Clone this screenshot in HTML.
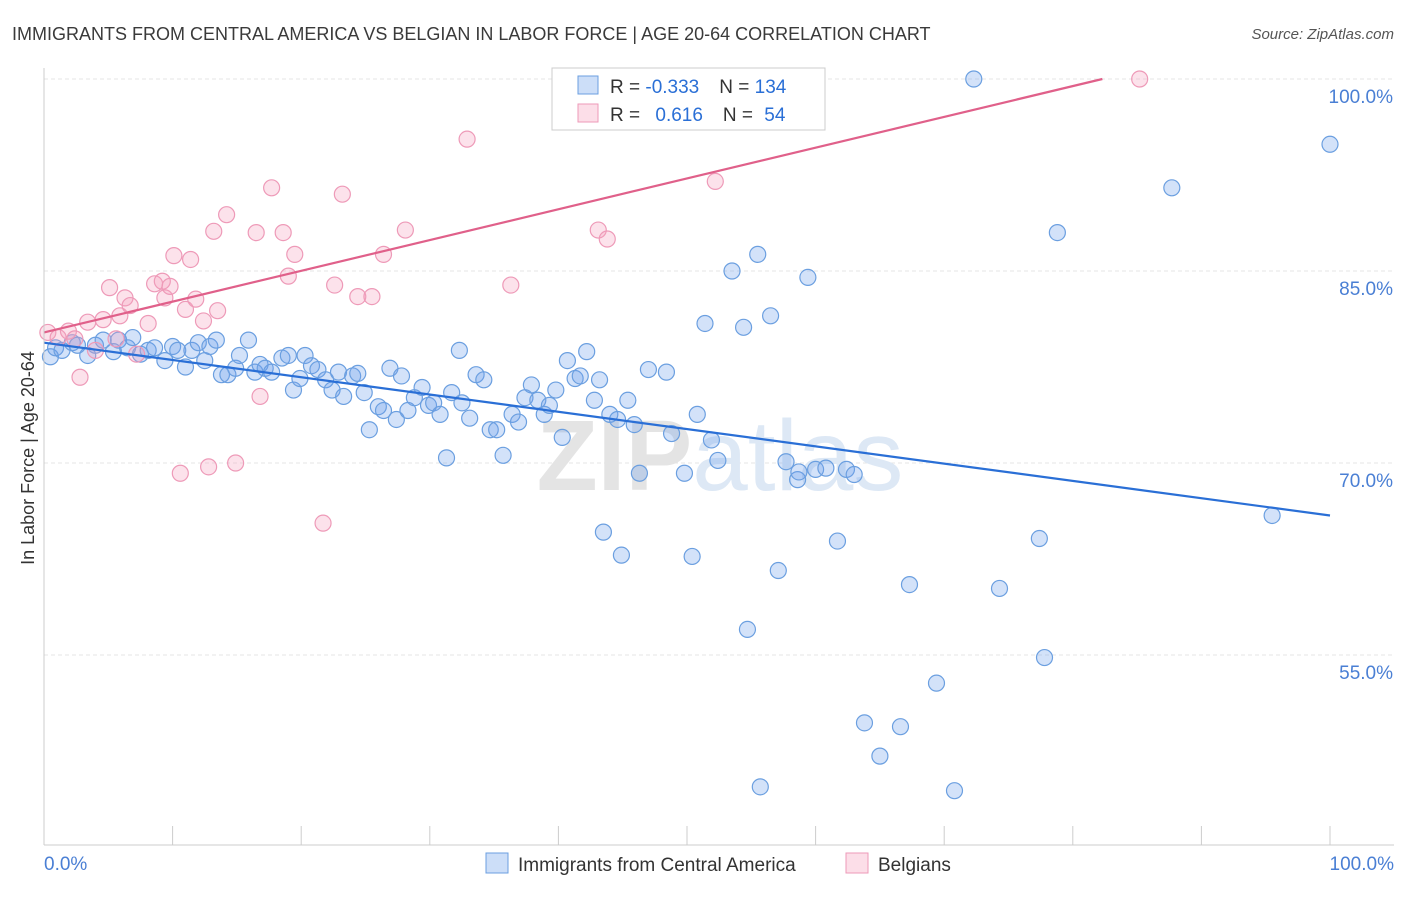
<!DOCTYPE html>
<html><head><meta charset="utf-8">
<style>
body{margin:0;background:#fff;font-family:"Liberation Sans",sans-serif;}
svg text{font-family:"Liberation Sans",sans-serif;}
</style></head><body>
<svg id="chart" width="1406" height="892" xmlns="http://www.w3.org/2000/svg">
<text x="12" y="40" font-size="18" fill="#3a3a3a">IMMIGRANTS FROM CENTRAL AMERICA VS BELGIAN IN LABOR FORCE | AGE 20-64 CORRELATION CHART</text>
<text x="1394" y="39" font-size="15" fill="#555" text-anchor="end" font-style="italic">Source: ZipAtlas.com</text>
<text transform="translate(34,458) rotate(-90)" font-size="18" fill="#333" text-anchor="middle">In Labor Force | Age 20-64</text>
<g id="grid"></g>
<g id="wm"><text x="720" y="490" font-size="100" fill="#e4e4e4" text-anchor="middle" font-weight="bold">ZIP<tspan fill="#dde8f5" font-weight="normal">atlas</tspan></text></g>
<g id="marks"></g>
<g id="axes"></g>
<g>
<rect x="552" y="68" width="273" height="62" fill="#fff" stroke="#ccc"/>
<rect x="578" y="76" width="20" height="18" fill="rgba(110,160,235,0.35)" stroke="#6b9fe0"/>
<rect x="578" y="104" width="20" height="18" fill="rgba(245,160,190,0.35)" stroke="#ee9ab8"/>
<text x="610" y="93" font-size="19" fill="#333">R = <tspan fill="#2a6fd6">-0.333</tspan><tspan dx="20">N = </tspan><tspan fill="#2a6fd6">134</tspan></text>
<text x="610" y="121" font-size="19" fill="#333">R = <tspan dx="10" fill="#2a6fd6">0.616</tspan><tspan dx="20">N = </tspan><tspan dx="6" fill="#2a6fd6">54</tspan></text>
</g>
<g>
<rect x="486" y="853" width="22" height="20" fill="rgba(110,160,235,0.35)" stroke="#6b9fe0"/>
<text x="518" y="871" font-size="19" fill="#333">Immigrants from Central America</text>
<rect x="846" y="853" width="22" height="20" fill="rgba(245,160,190,0.35)" stroke="#ee9ab8"/>
<text x="878" y="871" font-size="19" fill="#333">Belgians</text>
</g>
</svg>
<script>
const blueX=[0.5,0.9,1.4,2.2,2.6,3.4,4.0,4.6,5.4,5.8,6.5,6.9,7.5,8.1,8.6,9.4,10.0,10.4,11.0,11.5,12.0,12.5,12.9,13.4,13.8,14.3,14.9,15.2,15.9,16.4,16.8,17.2,17.7,18.5,19.0,19.4,19.9,20.3,20.8,21.3,21.9,22.4,22.9,23.3,24.0,24.4,24.9,25.3,26.0,26.4,26.9,27.4,27.8,28.3,28.8,29.4,29.9,30.3,30.8,31.3,31.7,32.3,32.5,33.1,33.6,34.2,34.7,35.2,35.7,36.4,36.9,37.4,37.9,38.4,38.9,39.3,39.8,40.3,40.7,41.3,41.7,42.2,42.8,43.2,43.5,44.0,44.6,44.9,45.4,45.9,46.3,47.0,48.4,48.8,49.8,50.4,50.8,51.4,51.9,52.4,53.5,54.4,54.7,55.5,55.7,56.5,57.1,57.7,58.6,58.7,59.4,60.0,60.8,61.7,62.4,63.0,63.8,65.0,66.6,67.3,69.4,70.8,72.3,74.3,77.4,77.8,78.8,87.7,95.5,100,47.9,49.1];
const blueY=[78.3,79.0,78.8,79.4,79.2,78.4,79.2,79.6,78.7,79.6,79.0,79.8,78.5,78.8,79.0,78.0,79.1,78.8,77.5,78.8,79.4,78.0,79.1,79.6,76.9,76.9,77.4,78.4,79.6,77.1,77.7,77.4,77.1,78.2,78.4,75.7,76.6,78.4,77.6,77.3,76.5,75.7,77.1,75.2,76.8,77.0,75.5,72.6,74.4,74.1,77.4,73.4,76.8,74.1,75.1,75.9,74.5,74.7,73.8,70.4,75.5,78.8,74.7,73.5,76.9,76.5,72.6,72.6,70.6,73.8,73.2,75.1,76.1,74.9,73.8,74.5,75.7,72.0,78.0,76.6,76.8,78.7,74.9,76.5,64.6,73.8,73.4,62.8,74.9,73.0,69.2,77.3,77.1,72.3,69.2,62.7,73.8,80.9,71.8,70.2,85.0,80.6,57.0,86.3,44.7,81.5,61.6,70.1,68.7,69.3,84.5,69.5,69.6,63.9,69.5,69.1,49.7,47.1,49.4,60.5,52.8,44.4,100,60.2,64.1,54.8,88.0,91.5,65.9,94.9,100,100];
const pinkX=[0.3,1.1,1.9,2.4,2.8,3.4,4,4.6,5.1,5.6,5.9,6.3,6.7,7.2,8.1,8.6,9.2,9.4,9.8,10.1,10.6,11,11.4,11.8,12.4,12.8,13.2,13.5,14.2,14.9,16.5,16.8,17.7,18.6,19,19.5,21.7,22.6,23.2,24.4,25.5,26.4,28.1,32.9,36.3,43.1,43.8,52.2,85.2];
const pinkY=[80.2,79.8,80.3,79.7,76.7,81,78.8,81.2,83.7,79.7,81.5,82.9,82.3,78.5,80.9,84,84.2,82.9,83.8,86.2,69.2,82,85.9,82.8,81.1,69.7,88.1,81.9,89.4,70,88,75.2,91.5,88,84.6,86.3,65.3,83.9,91,83,83,86.3,88.2,95.3,83.9,88.2,87.5,92,100];
const blueTrend=[79.4,65.9];
const pinkTrend=[80.2,100,82.3];
const yTicks=[55,70,85,100];
const yTickLabels=["55.0%","70.0%","85.0%","100.0%"];
const xTicks=[0,10,20,30,40,50,60,70,80,90,100];
const NS="http://www.w3.org/2000/svg";
const X=v=>44+v*12.86, Y=v=>79+(100-v)*12.8;
function mk(tag,attrs,parent){const e=document.createElementNS(NS,tag);for(const k in attrs)e.setAttribute(k,attrs[k]);parent.appendChild(e);return e;}
const grid=document.getElementById('grid'),marks=document.getElementById('marks'),axes=document.getElementById('axes');
yTicks.forEach((t,i)=>{
 const l=mk('line',{x1:44,x2:1394,y1:Y(t),y2:Y(t),stroke:'#e6e6e6','stroke-dasharray':'4,3'},grid);
 
 
 const tx=mk('text',{x:1393,y:Y(t)+24,'font-size':19,fill:'#4a7fd4','text-anchor':'end'},axes);
 tx.textContent=yTickLabels[i];
 
 
});
const ax=mk('line',{x1:44,x2:1394,y1:845,y2:845,stroke:'#ccc'},axes);


const ay=mk('line',{x1:44,x2:44,y1:68,y2:845,stroke:'#ccc'},axes);


xTicks.forEach(t=>{const l=mk('line',{x1:X(t),x2:X(t),y1:826,y2:845,stroke:'#ccc'},axes);
 
 });
const xl=mk('text',{x:44,y:870,'font-size':19,fill:'#4a7fd4'},axes);xl.textContent='0.0%';


const xr=mk('text',{x:1394,y:870,'font-size':19,fill:'#4a7fd4','text-anchor':'end'},axes);xr.textContent='100.0%';


blueX.forEach((x,i)=>{const c=mk('circle',{cx:X(x),cy:Y(blueY[i]),r:8,fill:'rgba(110,160,235,0.3)',stroke:'#6b9fe0','stroke-width':1.2},marks);
 
 });
pinkX.forEach((x,i)=>{const c=mk('circle',{cx:X(x),cy:Y(pinkY[i]),r:8,fill:'rgba(245,160,190,0.3)',stroke:'#ee9ab8','stroke-width':1.2},marks);
 
 });
const bl=mk('line',{x1:X(0),y1:Y(blueTrend[0]),x2:X(100),y2:Y(blueTrend[1]),stroke:'#2a6fd6','stroke-width':2.2},marks);


const pl=mk('line',{x1:X(0),y1:Y(pinkTrend[0]),x2:X(pinkTrend[2]),y2:Y(pinkTrend[1]),stroke:'#e0608a','stroke-width':2.2},marks);


</script>
</body></html>
